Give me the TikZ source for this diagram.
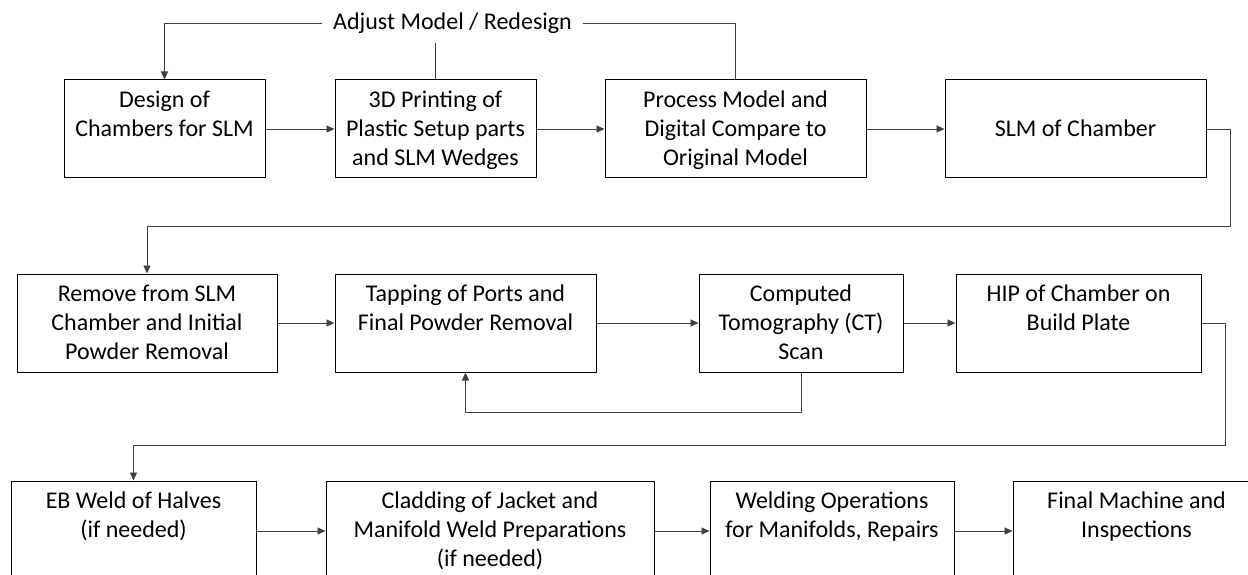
\documentclass[tikz,border=0pt]{standalone}
\usepackage{fontspec}
\setmainfont{Carlito}
\usetikzlibrary{arrows.meta}
\newcommand{\bt}[3]{\parbox[c][#2][t]{#1}{\centering\fontsize{24}{29}\selectfont\vspace*{7.4pt}\strut #3}}
\tikzset{
  box/.style={draw=black, line width=1pt, inner sep=0pt},
  conn/.style={draw=black!75, line width=0.9pt},
  arr/.style={conn, -{Triangle[length=8pt,width=7pt]}},
  lbl/.style={font=\fontsize{24}{29}\selectfont, inner xsep=11pt, inner ysep=0pt, minimum height=40pt}
}
\begin{document}
\begin{tikzpicture}[x=1pt, y=-1pt]
\useasboundingbox (0,0) rectangle (1248,575);
\fill[white] (0,0) rectangle (1248,575);
\clip (0,0) rectangle (1248,575);
% row 1
\node[box] (A) at (164.5,129) {\bt{201pt}{98pt}{Design of\\Chambers for SLM}};
\node[box] (B) at (435.5,129) {\bt{201pt}{98pt}{3D Printing of\\Plastic Setup parts\\and SLM Wedges}};
\node[box] (C) at (735.5,129) {\bt{261pt}{98pt}{Process Model and\\Digital Compare to\\Original Model}};
\node[box] (D) at (1075.5,129) {\bt{261pt}{98pt}{\\SLM of Chamber}};
% row 2
\node[box] (E) at (147,323) {\bt{260pt}{98pt}{Remove from SLM\\Chamber and Initial\\Powder Removal}};
\node[box] (F) at (465.5,323) {\bt{261pt}{98pt}{Tapping of Ports and\\Final Powder Removal}};
\node[box] (G) at (801,323) {\bt{204pt}{98pt}{Computed\\Tomography (CT)\\Scan}};
\node[box] (H) at (1078.5,323) {\bt{245pt}{98pt}{HIP of Chamber on\\Build Plate}};
% row 3
\node[box] (I) at (133.5,531) {\bt{245pt}{100pt}{EB Weld of Halves\\(if needed)}};
\node[box] (J) at (490,531) {\bt{328pt}{100pt}{Cladding of Jacket and\\Manifold Weld Preparations\\(if needed)}};
\node[box] (K) at (832,531) {\bt{244pt}{100pt}{Welding Operations\\for Manifolds, Repairs}};
\node[box] (L) at (1136.5,531) {\bt{247pt}{100pt}{Final Machine and\\Inspections}};
% label
\node[lbl] (txt) at (452.5,23) {Adjust Model / Redesign};
% connectors row 1
\draw[arr] (A.east) -- (B.west);
\draw[arr] (B.east) -- (C.west);
\draw[arr] (C.east) -- (D.west);
\draw[conn] (C.north) |- (txt.east);
\draw[conn] (B.north) -- (B.north |- txt.south);
\draw[arr] (txt.west) -| (A.north);
\coordinate (l1) at (1230,226);
\draw[arr] (D.east) -| (l1) -| (E.north);
% row 2
\draw[arr] (E.east) -- (F.west);
\draw[arr] (F.east) -- (G.west);
\draw[arr] (G.east) -- (H.west);
\coordinate (c2) at (801,412);
\draw[arr] (G.south) -- (c2) -| (F.south);
\coordinate (l2) at (1225,445);
\draw[arr] (H.east) -| (l2) -| (I.north);
% row 3
\draw[arr] (I.east) -- (J.west);
\draw[arr] (J.east) -- (K.west);
\draw[arr] (K.east) -- (L.west);
\end{tikzpicture}
\end{document}
